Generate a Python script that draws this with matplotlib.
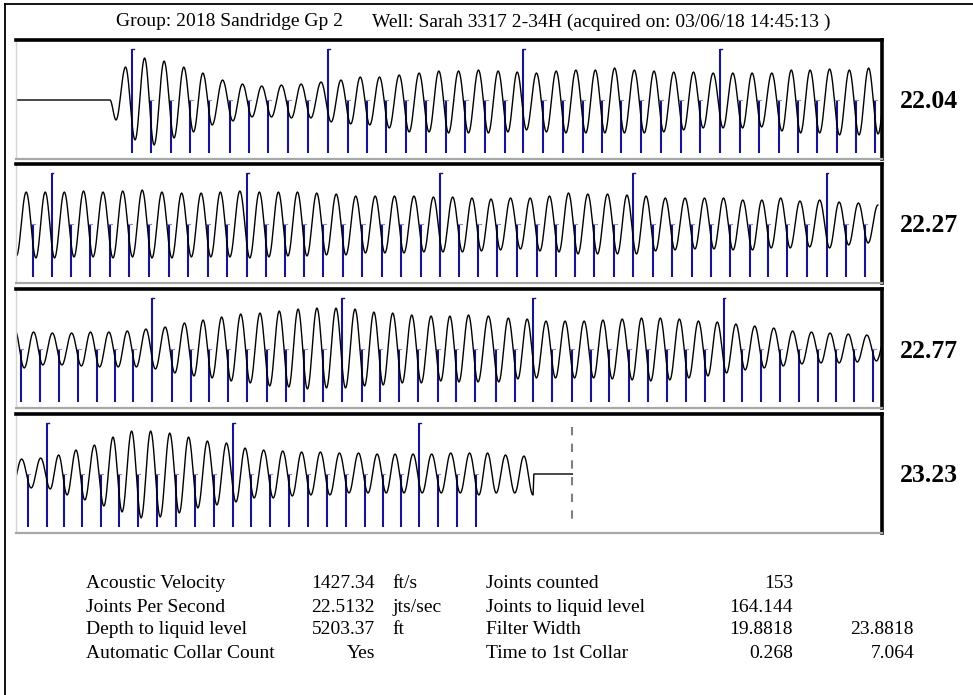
import numpy as np
import matplotlib
matplotlib.use('Agg')
import matplotlib.pyplot as plt
from matplotlib.lines import Line2D

# ---- header / summary values ----
group_text = "Group: 2018 Sandridge Gp 2"
well_text = "Well: Sarah 3317 2-34H (acquired on: 03/06/18 14:45:13 )"
rate_labels = ["22.04", "22.27", "22.77", "23.23"]

left_names = ["Acoustic Velocity", "Joints Per Second", "Depth to liquid level", "Automatic Collar Count"]
left_values = ["1427.34", "22.5132", "5203.37", "Yes"]
left_units = ["ft/s", "jts/sec", "ft", ""]
right_names = ["Joints counted", "Joints to liquid level", "Filter Width", "Time to 1st Collar"]
right_values = ["153", "164.144", "19.8818", "0.268"]
right_extra = ["", "", "23.8818", "7.064"]

# ---- collar (joint) marks, seconds from start of each 2 s row ----
row1_collars = [0.268, 0.312, 0.358, 0.403, 0.446, 0.494, 0.538, 0.583, 0.629, 0.674,
                0.721, 0.766, 0.810, 0.855, 0.901, 0.947, 0.992, 1.038, 1.084, 1.129,
                1.172, 1.218, 1.263, 1.309, 1.353, 1.398, 1.444, 1.489, 1.535, 1.580,
                1.626, 1.671, 1.715, 1.762, 1.805, 1.849, 1.895, 1.940, 1.984]
row2_collars = [0.039, 0.082, 0.127, 0.171, 0.217, 0.262, 0.307, 0.353, 0.398, 0.443,
                0.487, 0.533, 0.577, 0.621, 0.665, 0.710, 0.755, 0.800, 0.845, 0.889,
                0.935, 0.979, 1.024, 1.068, 1.112, 1.158, 1.203, 1.247, 1.291, 1.336,
                1.382, 1.426, 1.470, 1.515, 1.561, 1.605, 1.649, 1.694, 1.737, 1.781,
                1.826, 1.872, 1.916, 1.961]
row3_collars = [0.012, 0.055, 0.099, 0.144, 0.186, 0.229, 0.271, 0.315, 0.360, 0.404,
                0.446, 0.490, 0.534, 0.579, 0.623, 0.666, 0.710, 0.754, 0.798, 0.841,
                0.885, 0.929, 0.974, 1.016, 1.060, 1.108, 1.152, 1.195, 1.239, 1.283,
                1.327, 1.370, 1.416, 1.459, 1.503, 1.547, 1.591, 1.634, 1.677, 1.721,
                1.765, 1.808, 1.852, 1.894, 1.936, 1.980]
row4_collars = [0.028, 0.072, 0.111, 0.152, 0.196, 0.238, 0.282, 0.326, 0.370, 0.413,
                0.457, 0.501, 0.543, 0.587, 0.631, 0.674, 0.718, 0.762, 0.806, 0.848,
                0.889, 0.931, 0.975, 1.019, 1.062]

# extra wave troughs before the first / after the last collar of a row
row1_lead, row1_trail = [0.231], []
row2_lead, row2_trail = [0.001], []
row3_lead, row3_trail = [], []
row4_lead, row4_trail = [-0.009], [1.109, 1.152, 1.194]

# ---- filtered signal: peak height per cycle and trough depth per cycle ----
row1_peaks = [0, 33, 42, 39, 33, 27, 20, 16, 14, 15, 16, 18, 20, 23, 23, 25, 27, 29, 29, 30,
              29, 28, 27, 29, 30, 30, 32, 30, 29, 28, 28, 27, 27, 27, 27, 30, 30, 31, 30, 32, 30]
row1_troughs = [-20, -40, -45, -38, -32, -25, -21, -17, -17, -18, -18, -22, -24, -25, -28,
                -32, -32, -33, -33, -33, -32, -30, -32, -33, -33, -33, -33, -33, -32, -30,
                -28, -28, -28, -27, -31, -33, -33, -35, -35, -34]
row2_peaks = [32, 32, 32, 32, 33, 32, 33, 34, 32, 31, 31, 32, 33, 32, 32, 32, 31, 30, 28, 28,
              28, 28, 27, 27, 26, 25, 26, 26, 28, 31, 30, 30, 29, 28, 26, 26, 26, 26, 24, 24,
              26, 23, 24, 22, 21, 19]
row2_troughs = [-32, -34, -34, -33, -33, -34, -33, -34, -34, -33, -33, -33, -34, -33, -32,
                -32, -31, -31, -29, -29, -29, -28, -28, -28, -27, -26, -25, -27, -28, -30,
                -30, -30, -30, -27, -26, -25, -25, -26, -26, -24, -24, -23, -24, -21, -19]
row3_peaks = [19, 17, 16, 16, 17, 17, 18, 20, 22, 26, 29, 32, 35, 36, 38, 40, 41, 41, 40, 37,
              36, 34, 33, 33, 34, 33, 31, 30, 28, 28, 28, 29, 30, 31, 31, 30, 28, 27, 25, 23,
              21, 18, 17, 16, 15, 14, 14]
row3_troughs = [-19, -16, -16, -17, -18, -18, -18, -20, -24, -27, -29, -32, -34, -37, -38,
                -40, -39, -39, -37, -36, -34, -34, -32, -33, -33, -33, -30, -29, -29, -29,
                -29, -30, -31, -32, -31, -29, -27, -24, -21, -19, -17, -15, -14, -14, -13, -12]
row4_peaks = [14, 15, 16, 19, 24, 29, 37, 43, 43, 41, 37, 33, 31, 26, 24, 23, 22, 22, 21, 21,
              20, 20, 20, 20, 21, 21, 21, 19, 18, 0]
row4_troughs = [-14, -14, -15, -21, -26, -32, -38, -44, -43, -39, -34, -31, -28, -24, -24,
                -22, -21, -21, -19, -19, -19, -19, -19, -19, -19, -21, -19, -19, -21]

signal_start = 0.217      # row 1: flat until the shot arrives
signal_end = 1.196        # row 4: signal stops
liquid_level_time = 1.285  # row 4: liquid level marker (7.285 s)

W, H = 973, 695
LAG = 0.007  # trough sits just after each collar mark


def wave_curve(troughs, t_amp, p_amp, start=None, end=None):
    tr = np.asarray(troughs, float)
    ext_t = [tr[0] - (tr[1] - tr[0]) / 2]
    ext_v = [p_amp[0]]
    for i in range(len(tr)):
        ext_t.append(tr[i])
        ext_v.append(t_amp[i])
        if i < len(tr) - 1:
            ext_t.append((tr[i] + tr[i + 1]) / 2)
        else:
            ext_t.append(tr[i] + (tr[i] - tr[i - 1]) / 2)
        ext_v.append(p_amp[i + 1])
    ext_t = np.array(ext_t)
    ext_v = np.array(ext_v, float)
    if start is not None:
        keep = ext_t > start
        ext_t = np.r_[start, ext_t[keep]]
        ext_v = np.r_[0, ext_v[keep]]
    if end is not None:
        keep = ext_t < end
        ext_t = np.r_[ext_t[keep], end]
        ext_v = np.r_[ext_v[keep], 0]
    s = np.linspace(0, 1, 14)
    w = (1 - np.cos(np.pi * s)) / 2
    xs, ys = [], []
    for a in range(len(ext_t) - 1):
        xs.append(ext_t[a] + (ext_t[a + 1] - ext_t[a]) * s)
        ys.append(ext_v[a] + (ext_v[a + 1] - ext_v[a]) * w)
    return np.concatenate(xs), np.concatenate(ys)


rows = [
    (row1_collars, row1_lead, row1_trail, row1_peaks, row1_troughs),
    (row2_collars, row2_lead, row2_trail, row2_peaks, row2_troughs),
    (row3_collars, row3_lead, row3_trail, row3_peaks, row3_troughs),
    (row4_collars, row4_lead, row4_trail, row4_peaks, row4_troughs),
]

fig = plt.figure(figsize=(W / 100, H / 100), dpi=100)
fig.patch.set_facecolor('white')

# outer frame (left and top edges visible)
fig.add_artist(Line2D([5 / W, 5 / W], [0, 1 - 4 / H], color='black', lw=1.3))
fig.add_artist(Line2D([5 / W, 1], [1 - 4 / H, 1 - 4 / H], color='black', lw=1.3))

serif = 'Liberation Serif'
fig.text(116 / W, 1 - 22 / H, group_text, fontsize=14, family=serif, va='center', ha='left')
fig.text(372 / W, 1 - 22 / H, well_text, fontsize=14, family=serif, va='center', ha='left')

tops = [40, 164, 289, 414]
ph = 119
blue = '#16168a'
joint_no = 0
for k, (collars, lead, trail, peaks, troughs) in enumerate(rows):
    top = tops[k]
    ax = fig.add_axes([16 / W, 1 - (top + ph) / H, 866 / W, ph / H])
    ax.set_xlim(0, 2)
    ax.set_ylim(-59, 60)
    ax.set_xticks([])
    ax.set_yticks([])
    ax.spines['top'].set_color('black')
    ax.spines['top'].set_linewidth(2.6)
    ax.spines['right'].set_color('black')
    ax.spines['right'].set_linewidth(2.6)
    ax.spines['left'].set_color('#d4d4d4')
    ax.spines['left'].set_linewidth(1.0)
    ax.spines['bottom'].set_color('#a8a8a8')
    ax.spines['bottom'].set_linewidth(1.6)

    # collar marks, every 10th joint drawn tall
    for c in collars:
        if joint_no % 10 == 0:
            ax.plot([c, c], [51, -53], color=blue, lw=1.5, solid_capstyle='butt')
            ax.plot([c, c + 0.004], [51, 51], color=blue, lw=1.0)
        else:
            ax.plot([c, c], [0, -53], color=blue, lw=1.5, solid_capstyle='butt')
            ax.plot([c - 0.005, c + 0.005], [0, 0], color='#8c8cc8', lw=0.8)
        joint_no += 1

    trough_times = list(lead) + [c + LAG for c in collars] + list(trail)
    start = signal_start if k == 0 else None
    end = signal_end if k == 3 else None
    xs, ys = wave_curve(trough_times, troughs, peaks, start, end)
    if k == 0:
        xs = np.r_[0, xs]
        ys = np.r_[0, ys]
    if k == 3:
        xs = np.r_[xs, liquid_level_time]
        ys = np.r_[ys, 0]
        ax.plot([liquid_level_time, liquid_level_time], [47, -53], color='#808080',
                lw=1.5, linestyle=(0, (4, 4)))
    ax.plot(xs, ys, color='black', lw=1.0)

    fig.text(900 / W, 1 - (top + 62) / H, rate_labels[k], fontsize=18.5,
             family=serif, weight='bold', va='center', ha='left')

# summary table
row_y = [583, 607, 630, 654]
for i in range(4):
    y = 1 - row_y[i] / H
    fig.text(86 / W, y, left_names[i], fontsize=14, family=serif, va='center', ha='left')
    fig.text(375 / W, y, left_values[i], fontsize=14, family=serif, va='center', ha='right')
    fig.text(392 / W, y, left_units[i], fontsize=14, family=serif, va='center', ha='left')
    fig.text(486 / W, y, right_names[i], fontsize=14, family=serif, va='center', ha='left')
    fig.text(793 / W, y, right_values[i], fontsize=14, family=serif, va='center', ha='right')
    fig.text(914 / W, y, right_extra[i], fontsize=14, family=serif, va='center', ha='right')

fig.savefig('out.png', dpi=100)
